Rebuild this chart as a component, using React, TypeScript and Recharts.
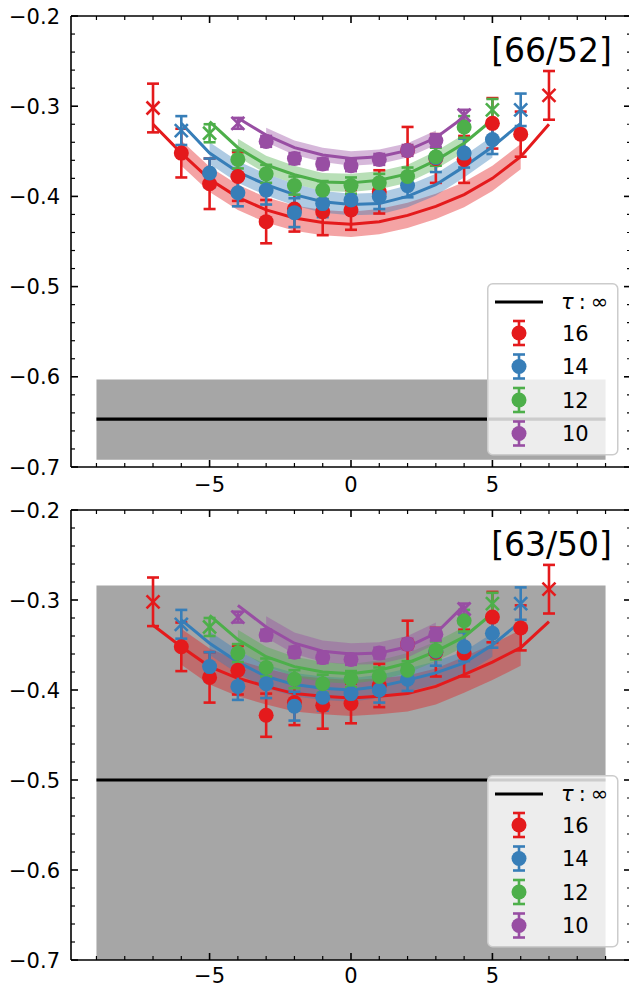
import { ComposedChart, XAxis, YAxis, Line, Area, Scatter, ErrorBar } from "recharts"

const FONT = "DejaVu Sans"
const PAGE_W = 629
const CHART_W = 633 // right spine sits just past the page edge
const PANEL_H = 494

// colours per source-sink separation tau
const TAUS = [16, 14, 12, 10]
const COLORS: Record<number, string> = {
  16: "#e41a1c", 14: "#377eb8", 12: "#4daf4a", 10: "#984ea3",
}

const X_TICKS = [-9, -8, -7, -6, -5, -4, -3, -2, -1, 0, 1, 2, 3, 4, 5, 6, 7, 8, 9]
const Y_TICKS = [
  -0.7, -0.68, -0.66, -0.64, -0.62, -0.6, -0.58, -0.56, -0.54, -0.52,
  -0.5, -0.48, -0.46, -0.44, -0.42, -0.4, -0.38, -0.36, -0.34, -0.32,
  -0.3, -0.28, -0.26, -0.24, -0.22, -0.2,
]

// insertion times per tau
const X_16 = [-7, -6, -5, -4, -3, -2, -1, 0, 1, 2, 3, 4, 5, 6, 7]
const X_14 = [-6, -5, -4, -3, -2, -1, 0, 1, 2, 3, 4, 5, 6]
const X_12 = [-5, -4, -3, -2, -1, 0, 1, 2, 3, 4, 5]
const X_10 = [-4, -3, -2, -1, 0, 1, 2, 3, 4]

// ratio data (same in both panels)
const Y_16 = [-0.302, -0.352, -0.386, -0.378, -0.428, -0.414, -0.417, -0.415, -0.395, -0.349, -0.358, -0.359, -0.319, -0.331, -0.288]
const E_16 = [0.027, 0.027, 0.028, 0.027, 0.024, 0.025, 0.026, 0.022, 0.024, 0.026, 0.027, 0.026, 0.028, 0.025, 0.027]
const Y_14 = [-0.327, -0.374, -0.396, -0.393, -0.418, -0.408, -0.404, -0.400, -0.388, -0.357, -0.352, -0.337, -0.304]
const E_14 = [0.016, 0.016, 0.015, 0.016, 0.016, 0.015, 0.013, 0.014, 0.013, 0.016, 0.016, 0.016, 0.018]
const Y_12 = [-0.330, -0.359, -0.375, -0.388, -0.393, -0.388, -0.385, -0.378, -0.356, -0.323, -0.304]
const E_12 = [0.010, 0.010, 0.010, 0.010, 0.010, 0.009, 0.010, 0.010, 0.010, 0.012, 0.012]
const Y_10 = [-0.319, -0.339, -0.358, -0.364, -0.366, -0.359, -0.349, -0.338, -0.310]
const E_10 = [0.006, 0.006, 0.006, 0.006, 0.006, 0.006, 0.006, 0.007, 0.006]

// fit curves, [66/52] model
const FIT_A_16 = [-0.320, -0.352, -0.381, -0.401, -0.415, -0.424, -0.429, -0.431, -0.428, -0.421, -0.411, -0.398, -0.380, -0.356, -0.320]
const FIT_A_14 = [-0.319, -0.352, -0.373, -0.387, -0.398, -0.406, -0.409, -0.408, -0.400, -0.387, -0.367, -0.345, -0.319]
const FIT_A_12 = [-0.317, -0.346, -0.365, -0.376, -0.384, -0.385, -0.382, -0.375, -0.360, -0.341, -0.315]
const FIT_A_10 = [-0.313, -0.332, -0.346, -0.354, -0.358, -0.356, -0.349, -0.335, -0.312]
const ERR_A = [0.014, 0.012, 0.010, 0.008]

// fit curves, [63/50] model
const FIT_B_16 = [-0.328, -0.352, -0.374, -0.387, -0.396, -0.404, -0.407, -0.409, -0.407, -0.404, -0.396, -0.383, -0.369, -0.353, -0.324]
const FIT_B_14 = [-0.322, -0.348, -0.369, -0.385, -0.394, -0.398, -0.400, -0.396, -0.389, -0.381, -0.370, -0.350, -0.324]
const FIT_B_12 = [-0.317, -0.344, -0.363, -0.374, -0.380, -0.382, -0.378, -0.370, -0.357, -0.341, -0.315]
const FIT_B_10 = [-0.306, -0.330, -0.348, -0.357, -0.360, -0.359, -0.352, -0.337, -0.306]
const ERR_B = [0.020, 0.013, 0.011, 0.012]

// tau -> infinity result
const INF_X = [-9, 9]
const INF_A = { mid: -0.647, lo: -0.692, hi: -0.603 }
const INF_B = { mid: -0.5, lo: -0.716, hi: -0.284 }

const XS = [X_16, X_14, X_12, X_10]
const YS = [Y_16, Y_14, Y_12, Y_10]
const ES = [E_16, E_14, E_12, E_10]

const fmt = (v: number, digits: number) =>
  v < 0 ? "\u2212" + Math.abs(v).toFixed(digits) : v.toFixed(digits)

function BottomTick(p: any) {
  const v = p.payload.value
  const major = v % 5 === 0
  return (
    <g>
      <line x1={p.x} x2={p.x} y1={p.y} y2={p.y - (major ? 7 : 4)} stroke="#000" strokeWidth={major ? 1.6 : 1.2} />
      {major && (
        <text x={p.x} y={p.y + p.labelGap} textAnchor="middle" fontSize={21} fontFamily={FONT} fill="#000">
          {fmt(v, 0)}
        </text>
      )}
    </g>
  )
}

function TopTick(p: any) {
  const major = p.payload.value % 5 === 0
  return <line x1={p.x} x2={p.x} y1={p.y} y2={p.y + (major ? 7 : 4)} stroke="#000" strokeWidth={major ? 1.6 : 1.2} />
}

const isMajorY = (v: number) => Math.abs(v * 10 - Math.round(v * 10)) < 1e-6

function LeftTick(p: any) {
  const v = p.payload.value
  const major = isMajorY(v)
  return (
    <g>
      <line x1={p.x} x2={p.x + (major ? 7 : 4)} y1={p.y} y2={p.y} stroke="#000" strokeWidth={major ? 1.6 : 1.2} />
      {major && (
        <text x={p.x - 11} y={p.y} dy="0.36em" textAnchor="end" fontSize={21} fontFamily={FONT} fill="#000">
          {fmt(v, 1)}
        </text>
      )}
    </g>
  )
}

function RightTick(p: any) {
  const major = isMajorY(p.payload.value)
  return <line x1={p.x} x2={p.x - (major ? 7 : 4)} y1={p.y} y2={p.y} stroke="#000" strokeWidth={major ? 1.6 : 1.2} />
}

const dotShape = (color: string) => (p: any) => <circle cx={p.cx} cy={p.cy} r={7.5} fill={color} />
const crossShape = (color: string) => (p: any) => (
  <g stroke={color} strokeWidth={2.6}>
    <line x1={p.cx - 6.5} y1={p.cy - 6.5} x2={p.cx + 6.5} y2={p.cy + 6.5} />
    <line x1={p.cx - 6.5} y1={p.cy + 6.5} x2={p.cx + 6.5} y2={p.cy - 6.5} />
  </g>
)

const AXIS_LINE = { stroke: "#000", strokeWidth: 1.6 }

type Inf = { mid: number; lo: number; hi: number }

function Panel({ fits, errs, inf, height, axisH, labelGap }: {
  fits: number[][]; errs: number[]; inf: Inf; height: number; axisH: number; labelGap: number
}) {
  const grayBand = INF_X.map((x) => ({ x, band: [inf.lo, inf.hi] }))
  const grayLine = INF_X.map((x) => ({ x, y: inf.mid }))
  return (
    <ComposedChart width={CHART_W} height={height} margin={{ top: 0, right: 0, bottom: 0, left: 0 }}>
      <XAxis xAxisId={0} dataKey="x" type="number" domain={[-9.9, 9.9]} allowDataOverflow ticks={X_TICKS} interval={0}
        tick={<BottomTick labelGap={labelGap} />} tickLine={false} tickSize={0} tickMargin={0} height={axisH} axisLine={AXIS_LINE} />
      <XAxis xAxisId="t" orientation="top" dataKey="x" type="number" domain={[-9.9, 9.9]} allowDataOverflow ticks={X_TICKS} interval={0}
        tick={<TopTick />} tickLine={false} tickSize={0} tickMargin={0} height={16} axisLine={AXIS_LINE} />
      <YAxis yAxisId={0} dataKey="y" type="number" domain={[-0.7, -0.2]} allowDataOverflow ticks={Y_TICKS} interval={0}
        tick={<LeftTick />} tickLine={false} tickSize={0} tickMargin={0} width={71} axisLine={AXIS_LINE} />
      <YAxis yAxisId="r" orientation="right" dataKey="y" type="number" domain={[-0.7, -0.2]} allowDataOverflow ticks={Y_TICKS} interval={0}
        tick={<RightTick />} tickLine={false} tickSize={0} tickMargin={0} width={2} axisLine={AXIS_LINE} />

      <Area data={grayBand} dataKey="band" type="linear" stroke="none" fill="#808080" fillOpacity={0.7} isAnimationActive={false} />
      <Line data={grayLine} dataKey="y" type="linear" stroke="#000" strokeWidth={3.2} dot={false} isAnimationActive={false} />

      {TAUS.map((tau, k) => {
        const band = XS[k].slice(1, -1).map((x, i) => ({
          x, band: [fits[k][i + 1] - errs[k], fits[k][i + 1] + errs[k]],
        }))
        return (
          <Area key={"b" + tau} data={band} dataKey="band" type="linear" stroke="none"
            fill={COLORS[tau]} fillOpacity={0.4} isAnimationActive={false} />
        )
      })}

      {TAUS.flatMap((tau, k) => {
        const color = COLORS[tau]
        const pts = XS[k].map((x, i) => ({ x, y: YS[k][i], err: ES[k][i] }))
        const used = pts.slice(1, -1)
        const cut = [pts[0], pts[pts.length - 1]]
        const fit = XS[k].map((x, i) => ({ x, y: fits[k][i] }))
        return [
          <Line key={"l" + tau} data={fit} dataKey="y" type="linear" stroke={color} strokeWidth={3}
            dot={false} isAnimationActive={false} />,
          <Scatter key={"s" + tau} data={used} shape={dotShape(color)} isAnimationActive={false}>
            <ErrorBar dataKey="err" direction="y" width={6} stroke={color} strokeWidth={2.6} isAnimationActive={false} />
          </Scatter>,
          <Scatter key={"c" + tau} data={cut} shape={crossShape(color)} isAnimationActive={false}>
            <ErrorBar dataKey="err" direction="y" width={6} stroke={color} strokeWidth={2.6} isAnimationActive={false} />
          </Scatter>,
        ]
      })}
    </ComposedChart>
  )
}

function Overlay({ tag, legendTop }: { tag: string; legendTop: number }) {
  return (
    <svg width={PAGE_W} height={PANEL_H} style={{ position: "absolute", left: 0, top: 0, pointerEvents: "none" }}>
      <text x={612} y={62} textAnchor="end" fontSize={33} fontFamily={FONT} fill="#000">{tag}</text>
      <g transform={`translate(487,${legendTop})`} fontFamily={FONT} fontSize={21}>
        <rect x={0.75} y={0.75} width={130} height={171} rx={5} fill="#fff" fillOpacity={0.8} stroke="#cccccc" strokeWidth={1.5} />
        <line x1={8} x2={56} y1={19} y2={19} stroke="#000" strokeWidth={3.2} />
        <text x={74} y={26} fill="#000">
          <tspan fontStyle="italic">τ</tspan>
          <tspan dx={5}>:</tspan>
          <tspan dx={5}>∞</tspan>
        </text>
        {TAUS.map((tau, i) => {
          const cy = 50 + i * 33.5
          const c = COLORS[tau]
          return (
            <g key={tau}>
              <line x1={32} x2={32} y1={cy - 12} y2={cy + 12} stroke={c} strokeWidth={2.6} />
              <line x1={26} x2={38} y1={cy - 12} y2={cy - 12} stroke={c} strokeWidth={2.6} />
              <line x1={26} x2={38} y1={cy + 12} y2={cy + 12} stroke={c} strokeWidth={2.6} />
              <circle cx={32} cy={cy} r={7.5} fill={c} />
              <text x={75} y={cy + 7.5} fill="#000">{tau}</text>
            </g>
          )
        })}
      </g>
    </svg>
  )
}

export default function App() {
  return (
    <div style={{ position: "absolute", left: 0, top: 0, width: PAGE_W, height: 988, overflow: "hidden", background: "#fff" }}>
      <div style={{ position: "absolute", left: 0, top: 0, width: CHART_W, height: 500 }}>
        <Panel fits={[FIT_A_16, FIT_A_14, FIT_A_12, FIT_A_10]} errs={ERR_A} inf={INF_A} height={500} axisH={33} labelGap={25} />
        <Overlay tag="[66/52]" legendTop={283} />
      </div>
      <div style={{ position: "absolute", left: 0, top: PANEL_H, width: CHART_W, height: PANEL_H }}>
        <Panel fits={[FIT_B_16, FIT_B_14, FIT_B_12, FIT_B_10]} errs={ERR_B} inf={INF_B} height={PANEL_H} axisH={28} labelGap={23} />
        <Overlay tag="[63/50]" legendTop={281} />
      </div>
    </div>
  )
}
